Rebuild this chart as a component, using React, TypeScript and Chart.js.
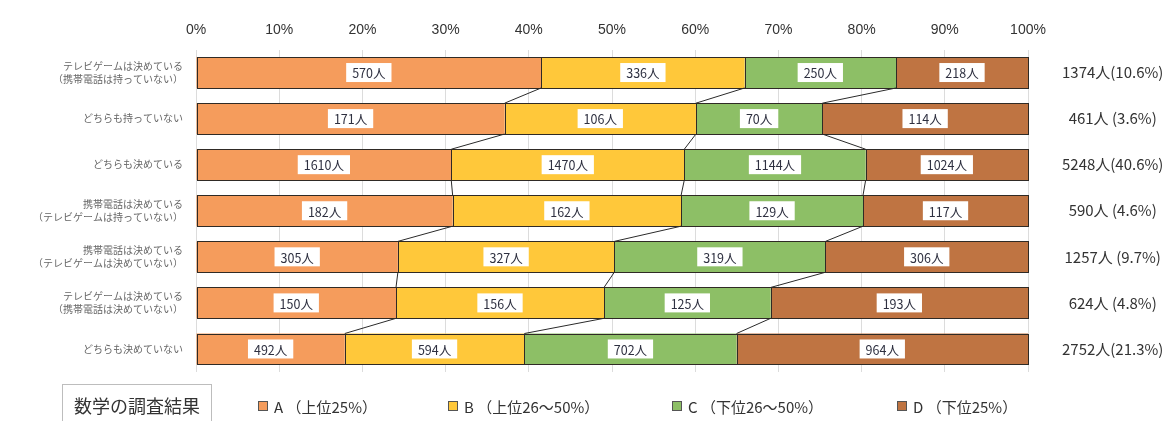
import React, { useEffect, useRef } from 'react';
import { Chart, registerables } from 'chart.js';

Chart.register(...registerables);

const categories: (string | string[])[] = [
  ['テレビゲームは決めている', '（携帯電話は持っていない）'],
  'どちらも持っていない',
  'どちらも決めている',
  ['携帯電話は決めている', '（テレビゲームは持っていない）'],
  ['携帯電話は決めている', '（テレビゲームは決めていない）'],
  ['テレビゲームは決めている', '（携帯電話は決めていない）'],
  'どちらも決めていない',
];

const seriesNames = ['A （上位25%）', 'B （上位26～50%）', 'C （下位26～50%）', 'D （下位25%）'];
const countsA = [570, 171, 1610, 182, 305, 150, 492];
const countsB = [336, 106, 1470, 162, 327, 156, 594];
const countsC = [250, 70, 1144, 129, 319, 125, 702];
const countsD = [218, 114, 1024, 117, 306, 193, 964];
const totalLabels = [
  '1374人(10.6%)',
  '461人 (3.6%)',
  '5248人(40.6%)',
  '590人 (4.6%)',
  '1257人 (9.7%)',
  '624人 (4.8%)',
  '2752人(21.3%)',
];
const legendTitle = '数学の調査結果';
const seriesColors = ['#F59C5C', '#FFC83A', '#8DBF66', '#BF7442'];

const allCounts = [countsA, countsB, countsC, countsD];
const rowTotals = countsA.map((_, i) => allCounts.reduce((s, arr) => s + arr[i], 0));
const percentOf = (arr: number[]) => arr.map((v, i) => (v / rowTotals[i]) * 100);

const JP = '"Noto Sans CJK JP", "Noto Sans", sans-serif';

const dataLabelPlugin = {
  id: 'dataLabelBoxes',
  afterDatasetsDraw(chart: any) {
    const ctx = chart.ctx;
    const xs = chart.scales.x;
    const metaRef = chart.getDatasetMeta(0);
    ctx.save();
    // outlines of segments
    ctx.strokeStyle = '#2f2a25';
    ctx.lineWidth = 1;
    chart.data.datasets.forEach((_ds: any, di: number) => {
      const meta = chart.getDatasetMeta(di);
      meta.data.forEach((el: any) => {
        const x0 = Math.round(Math.min(el.x, el.base)) + 0.5;
        const x1 = Math.round(Math.max(el.x, el.base)) + 0.5;
        const y0 = Math.round(el.y - el.height / 2) + 0.5;
        const y1 = Math.round(el.y + el.height / 2) + 0.5;
        ctx.strokeRect(x0, y0, x1 - x0, y1 - y0);
      });
    });
    // series lines between bars
    ctx.strokeStyle = '#2a2a2a';
    for (let i = 0; i < categories.length - 1; i++) {
      const elA: any = metaRef.data[i];
      const elB: any = metaRef.data[i + 1];
      const yBottom = elA.y + elA.height / 2;
      const yTop = elB.y - elB.height / 2;
      let cumI = 0;
      let cumJ = 0;
      for (let k = 0; k < 3; k++) {
        cumI += (allCounts[k][i] / rowTotals[i]) * 100;
        cumJ += (allCounts[k][i + 1] / rowTotals[i + 1]) * 100;
        ctx.beginPath();
        ctx.moveTo(xs.getPixelForValue(cumI), yBottom);
        ctx.lineTo(xs.getPixelForValue(cumJ), yTop);
        ctx.stroke();
      }
    }
    // labels
    ctx.font = `12.5px ${JP}`;
    ctx.textAlign = 'center';
    ctx.textBaseline = 'middle';
    chart.data.datasets.forEach((_ds: any, di: number) => {
      const meta = chart.getDatasetMeta(di);
      meta.data.forEach((el: any, i: number) => {
        const text = `${allCounts[di][i]}人`;
        const cx = (el.x + el.base) / 2;
        const cy = el.y;
        const w = ctx.measureText(text).width + 12;
        const h = 19;
        ctx.fillStyle = '#ffffff';
        ctx.fillRect(cx - w / 2, cy - h / 2, w, h);
        ctx.fillStyle = '#2e3040';
        ctx.fillText(text, cx, cy + 1);
      });
    });
    ctx.restore();
  },
};

function ChartCanvas() {
  const ref = useRef<HTMLCanvasElement | null>(null);
  useEffect(() => {
    if (!ref.current) return;
    const chart = new Chart(ref.current, {
      type: 'bar',
      data: {
        labels: categories as any,
        datasets: allCounts.map((arr, k) => ({
          label: seriesNames[k],
          data: percentOf(arr),
          backgroundColor: seriesColors[k],
          borderWidth: 0,
          barPercentage: 0.67,
          categoryPercentage: 1.0,
          yAxisID: 'y',
        })),
      },
      options: {
        indexAxis: 'y',
        animation: false,
        responsive: false,
        maintainAspectRatio: false,
        layout: { padding: { top: 0, bottom: 49, left: 0, right: 0 } },
        plugins: {
          legend: { display: false },
          tooltip: { enabled: false },
        },
        scales: {
          x: {
            position: 'top',
            stacked: true,
            min: 0,
            max: 100,
            ticks: {
              stepSize: 10,
              padding: 11,
              color: '#333',
              font: { family: '"Liberation Sans Narrow", "Liberation Sans", sans-serif', size: 14 },
              callback: (v: any) => `${v}%`,
            },
            grid: { color: '#dcdcdc', drawTicks: false },
            border: { display: false },
            afterFit: (s: any) => {
              s.height = 49.5;
            },
          },
          y: {
            position: 'left',
            stacked: true,
            ticks: {
              color: '#666',
              padding: 13,
              font: { family: JP, size: 10, lineHeight: 1.35 },
            },
            grid: { display: false, drawTicks: false },
            border: { display: false },
            afterFit: (s: any) => {
              s.width = 196;
            },
          },
          y2: {
            type: 'category',
            position: 'right',
            labels: totalLabels,
            offset: true,
            ticks: {
              color: '#333',
              crossAlign: 'center',
              padding: 34,
              font: { family: JP, size: 15 },
            },
            grid: { display: false, drawTicks: false },
            border: { display: false },
            afterFit: (s: any) => {
              s.width = 148;
            },
          },
        },
      } as any,
      plugins: [dataLabelPlugin],
    });
    return () => chart.destroy();
  }, []);
  return <canvas ref={ref} width={1176} height={421} style={{ display: 'block' }} />;
}

const legendXs = [258, 448, 672, 897];

export default function App() {
  return (
    <div
      style={{
        position: 'fixed',
        left: 0,
        top: 0,
        width: 1176,
        height: 421,
        background: '#fff',
        overflow: 'hidden',
        fontFamily: JP,
      }}
    >
      <ChartCanvas />
      <div
        style={{
          position: 'absolute',
          left: 62,
          top: 384,
          width: 150,
          height: 50,
          border: '1px solid #bdbdbd',
          boxSizing: 'border-box',
          fontSize: 18,
          color: '#333',
          lineHeight: '40px',
          textAlign: 'center',
        }}
      >
        {legendTitle}
      </div>
      {seriesNames.map((name, k) => (
        <div
          key={name}
          style={{
            position: 'absolute',
            left: legendXs[k],
            top: 395,
            height: 22,
            display: 'flex',
            alignItems: 'center',
            fontSize: 15,
            color: '#333',
            whiteSpace: 'nowrap',
          }}
        >
          <span
            style={{
              display: 'inline-block',
              width: 8,
              height: 8,
              background: seriesColors[k],
              border: '1px solid #555',
              marginRight: 6,
            }}
          />
          {name}
        </div>
      ))}
    </div>
  );
}
